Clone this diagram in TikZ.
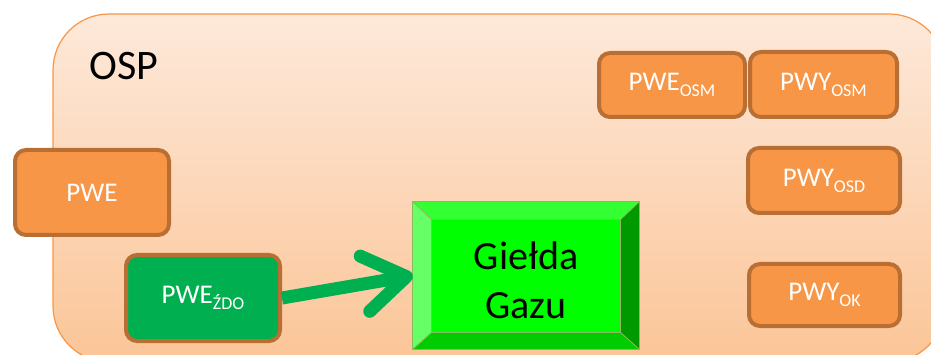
\documentclass[tikz,border=0pt]{standalone}
\usepackage{fontspec}
\setmainfont{Carlito}
\usepackage{xcolor}
\usepackage{tikz}
\usetikzlibrary{arrows.meta}

\definecolor{ospline}{HTML}{F79646}
\definecolor{osptop}{HTML}{FDE9DA}
\definecolor{ospbottom}{HTML}{FBC597}
\definecolor{boxfill}{HTML}{F79646}
\definecolor{boxline}{HTML}{B96F33}
\definecolor{zdofill}{HTML}{00B050}
\definecolor{gazuline}{HTML}{8DBA5C}

\newcommand{\lowidx}[1]{\raisebox{-6pt}{\fontsize{18}{18}\selectfont #1}}

\begin{document}
\begin{tikzpicture}[x=1pt,y=-1pt]
	\tikzstyle{every node}=[font=\fontsize{27}{31}\selectfont]
	\tikzstyle{orangebox}=[draw=boxline, fill=boxfill, line width=4pt, rounded corners=11pt, text=white, inner sep=0pt]
	\tikzstyle{greenbox}=[orangebox, fill=zdofill]
		\useasboundingbox (0,0) rectangle (931,355);
		\begin{scope}
		\clip (0,0) rectangle (931,355);
		\draw [draw=ospline, line width=1.2pt, top color=osptop, bottom color=ospbottom, rounded corners=56pt] (53,14) rectangle (945,362);
		\end{scope}
		\node [anchor=base west, font=\fontsize{42}{46}\selectfont] (osp) at (86,80) {OSP};
		\node [orangebox, minimum width=154pt, minimum height=85pt] (pwe) at (92,192.5) {PWE};
		\node [orangebox, minimum width=146pt, minimum height=64pt] (pweosm) at (672,85) {PWE\lowidx{OSM}};
		\node [orangebox, minimum width=147pt, minimum height=65pt] (pwyosm) at (823.5,84.5) {PWY\lowidx{OSM}};
		\node [orangebox, minimum width=152pt, minimum height=65pt] (pwyosd) at (824,180.5) {PWY\lowidx{OSD}};
		\node [orangebox, minimum width=151pt, minimum height=62pt] (pwyok) at (824.5,295) {PWY\lowidx{OK}};
		\node [greenbox, minimum width=154pt, minimum height=86pt] (zdo) at (203,298) {PWE\lowidx{ŹDO}};
		% Giełda Gazu, bevelled box
		\node [minimum width=226pt, minimum height=147pt, inner sep=0pt] (gazu) at (526,275.5) {};
		\fill [color={rgb,255:red,51;green,255;blue,51}] (gazu.north west) -- (gazu.north east) -- ([shift={(-19,18)}]gazu.north east) -- ([shift={(19,18)}]gazu.north west) -- cycle;
		\fill [color={rgb,255:red,102;green,255;blue,102}] (gazu.north west) -- ([shift={(19,18)}]gazu.north west) -- ([shift={(19,-17)}]gazu.south west) -- (gazu.south west) -- cycle;
		\fill [color={rgb,255:red,0;green,153;blue,0}] (gazu.north east) -- (gazu.south east) -- ([shift={(-19,-17)}]gazu.south east) -- ([shift={(-19,18)}]gazu.north east) -- cycle;
		\fill [color={rgb,255:red,0;green,204;blue,0}] (gazu.south west) -- ([shift={(19,-17)}]gazu.south west) -- ([shift={(-19,-17)}]gazu.south east) -- (gazu.south east) -- cycle;
		\fill [color={rgb,255:red,0;green,255;blue,0}] ([shift={(19,18)}]gazu.north west) rectangle ([shift={(-19,-17)}]gazu.south east);
		\draw [gazuline, line width=0.8pt] (gazu.north west) rectangle (gazu.south east);
		\draw [gazuline, line width=0.8pt] ([shift={(19,18)}]gazu.north west) rectangle ([shift={(-19,-17)}]gazu.south east);
		\draw [gazuline, line width=0.8pt] (gazu.north west) -- ([shift={(19,18)}]gazu.north west);
		\draw [gazuline, line width=0.8pt] (gazu.north east) -- ([shift={(-19,18)}]gazu.north east);
		\draw [gazuline, line width=0.8pt] (gazu.south west) -- ([shift={(19,-17)}]gazu.south west);
		\draw [gazuline, line width=0.8pt] (gazu.south east) -- ([shift={(-19,-17)}]gazu.south east);
		\node [align=center, font=\fontsize{40}{49}\selectfont] (gazutext) at (526,280) {Giełda\\Gazu};
		% arrow
		\draw [zdofill, line width=13pt, -{Straight Barb[length=42pt, width=56pt, round]}] (zdo.east) -- (gazu.west);
	\end{tikzpicture}
\end{document}
